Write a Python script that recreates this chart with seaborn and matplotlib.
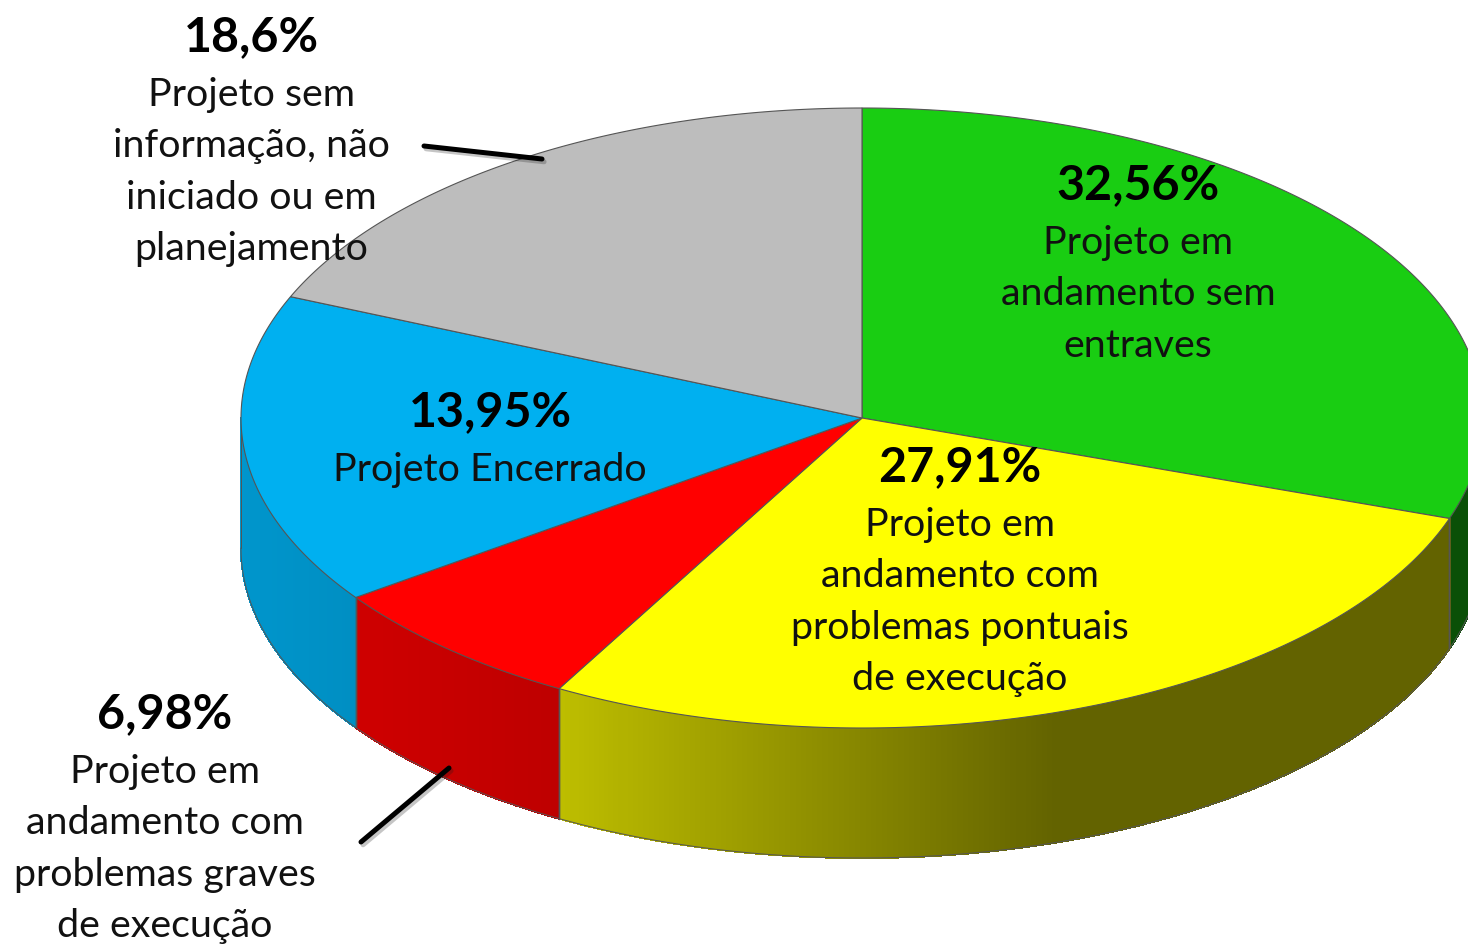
import numpy as np
import matplotlib.pyplot as plt
import matplotlib.patheffects as pe
import seaborn as sns

# dados do grafico
shares = [32.56, 27.91, 6.98, 13.95, 18.6]
pct_labels = ["32,56%", "27,91%", "6,98%", "13,95%", "18,6%"]
names = [
    "Projeto em\nandamento sem\nentraves",
    "Projeto em\nandamento com\nproblemas pontuais\nde execução",
    "Projeto em\nandamento com\nproblemas graves\nde execução",
    "Projeto Encerrado",
    "Projeto sem\ninformação, não\niniciado ou em\nplanejamento",
]
top_colors = ["#19CD12", "#FFFF00", "#FF0000", "#00B0F0", "#BDBDBD"]

sns.set_theme(style="white")
plt.rcParams["font.family"] = ["Lato", "DejaVu Sans"]
palette = sns.color_palette(top_colors)

fig = plt.figure(figsize=(14.68, 9.46), dpi=100)
ax = fig.add_axes([0, 0, 1, 1])
ax.set_xlim(0, 1468)
ax.set_ylim(946, 0)
ax.axis("off")

# geometria da pizza em pixels
cx, cy = 862, 418
rx, ry = 621, 310
depth = 130
edge = "#555555"


# a perspectiva do grafico original desloca um pouco os angulos
def warp(a):
    return np.interp(a, [0, 117.2, 217.7, 242.8, 293, 360], [0, 108.9, 209.2, 234.6, 293, 360])


def rim(t):
    r = np.radians(t)
    return cx + rx * np.sin(r), cy - ry * np.cos(r)


def wall_shade(x):
    return np.interp(x, [241, 357, 557, 1050, 1468], [0.85, 0.81, 0.745, 0.39, 0.39])


ends = np.cumsum(shares) / np.sum(shares) * 360
starts = np.r_[0, ends[:-1]]

# parede lateral, em faixas estreitas para o degrade
for a0, a1, color in zip(starts, ends, palette):
    t0, t1 = max(warp(a0), 90), min(warp(a1), 270)
    if t0 >= t1:
        continue
    steps = np.linspace(t0, t1, int((t1 - t0) * 2) + 2)
    for s0, s1 in zip(steps[:-1], steps[1:]):
        x0, y0 = rim(s0)
        x1, y1 = rim(s1)
        c = np.array(color) * wall_shade((x0 + x1) / 2)
        ax.fill([x0, x1, x1, x0], [y0, y1, y1 + depth, y0 + depth], color=c, lw=0.8,
                antialiased=False, zorder=2)
    # contorno da base e arestas verticais
    xs, ys = rim(steps)
    ax.plot(xs, ys + depth, color=edge, lw=0.7, zorder=3)
    for t in (t0, t1):
        if t not in (90, 270):
            x, y = rim(t)
            ax.plot([x, x], [y, y + depth], color=edge, lw=1.0, zorder=3)

# linha do lado esquerdo da parede
x_left, y_left = rim(270)
ax.plot([x_left, x_left], [y_left, y_left + depth], color=edge, lw=0.7, zorder=3)

# tampo
for a0, a1, color in zip(starts, ends, palette):
    tt = np.linspace(warp(a0), warp(a1), 200)
    xs, ys = rim(tt)
    ax.fill(np.r_[cx, xs], np.r_[cy, ys], facecolor=color, edgecolor=edge, lw=0.8, zorder=4)

# rotulos
pct_size = 34.8
name_size = 28.4
label_pos = [(1138, 185), (960, 467), (165, 714), (490, 412), (251, 37)]
for (x, y), pct, name in zip(label_pos, pct_labels, names):
    ax.text(x, y, pct, ha="center", va="center", fontsize=pct_size, fontweight="bold",
            color="black", zorder=6)
    ax.text(x, y + 40, name, ha="center", va="top", fontsize=name_size, color="#111111",
            linespacing=1.53, zorder=6)

# linhas de chamada
shadow = [pe.SimpleLineShadow(offset=(1.5, -2), alpha=0.25), pe.Normal()]
ax.plot([424, 542], [146, 159], color="black", lw=3.6, zorder=5, path_effects=shadow)
ax.plot([361, 449], [842, 768], color="black", lw=3.6, zorder=5, path_effects=shadow)

fig.savefig("out.png", dpi=100, facecolor="white")
